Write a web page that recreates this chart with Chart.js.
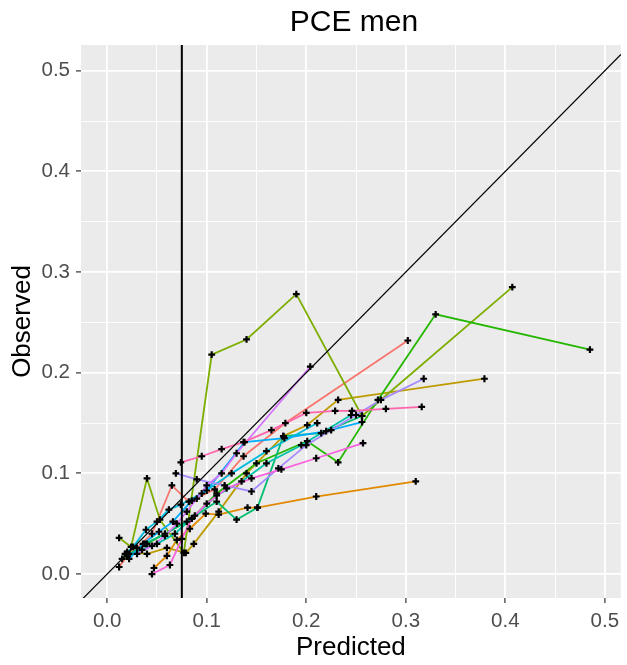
<!DOCTYPE html>
<html>
<head>
<meta charset="utf-8">
<script src="https://cdn.jsdelivr.net/npm/chart.js@4.4.1/dist/chart.umd.min.js"></script>
<style>
  html, body { margin: 0; padding: 0; background: #ffffff; overflow: hidden; }
  #marco { width: 627px; height: 665px; }
</style>
</head>
<body>
<div id="marco"><canvas id="grafico" width="627" height="665"></canvas></div>
<script>
// --- DATOS: [predicho, observado] por cohorte, ordenados por predicho ---
const rojo = [[0.012,0.007],[0.020,0.018],[0.030,0.026],[0.045,0.040],[0.065,0.088],[0.082,0.072],[0.108,0.084],[0.137,0.117],[0.179,0.150],[0.302,0.232]];
const naranja = [[0.047,0.006],[0.060,0.018],[0.070,0.034],[0.083,0.045],[0.099,0.060],[0.112,0.059],[0.141,0.066],[0.151,0.066],[0.210,0.077],[0.310,0.092]];
const oliva = [[0.020,0.022],[0.040,0.020],[0.060,0.026],[0.079,0.021],[0.087,0.030],[0.112,0.062],[0.140,0.100],[0.177,0.137],[0.201,0.148],[0.232,0.173],[0.379,0.194]];
const lima = [[0.012,0.036],[0.024,0.027],[0.040,0.095],[0.053,0.054],[0.077,0.021],[0.105,0.218],[0.140,0.233],[0.190,0.278],[0.256,0.157],[0.407,0.285]];
const verde = [[0.015,0.015],[0.040,0.030],[0.085,0.055],[0.110,0.080],[0.150,0.110],[0.201,0.132],[0.232,0.111],[0.272,0.173],[0.330,0.258],[0.485,0.223]];
const esmeralda = [[0.020,0.018],[0.038,0.030],[0.058,0.040],[0.080,0.052],[0.110,0.072],[0.130,0.054],[0.151,0.066],[0.177,0.137],[0.215,0.140],[0.256,0.157]];
const turquesa = [[0.022,0.020],[0.035,0.024],[0.050,0.030],[0.068,0.040],[0.088,0.058],[0.110,0.078],[0.135,0.092],[0.160,0.110],[0.195,0.128],[0.245,0.158]];
const cian = [[0.018,0.020],[0.026,0.027],[0.039,0.044],[0.050,0.052],[0.062,0.064],[0.074,0.069],[0.095,0.080],[0.125,0.100],[0.160,0.122],[0.211,0.150]];
const celeste = [[0.022,0.015],[0.036,0.030],[0.052,0.042],[0.066,0.052],[0.085,0.073],[0.100,0.083],[0.138,0.131],[0.178,0.135],[0.220,0.142],[0.256,0.151]];
const lavanda = [[0.069,0.100],[0.090,0.094],[0.118,0.088],[0.145,0.082],[0.172,0.105],[0.200,0.128],[0.225,0.143],[0.250,0.158],[0.275,0.173],[0.318,0.194]];
const violeta = [[0.030,0.020],[0.045,0.028],[0.058,0.038],[0.070,0.050],[0.080,0.062],[0.090,0.075],[0.100,0.088],[0.115,0.100],[0.130,0.120],[0.204,0.206]];
const magenta = [[0.045,0.000],[0.063,0.009],[0.075,0.035],[0.085,0.055],[0.100,0.070],[0.120,0.085],[0.145,0.095],[0.175,0.104],[0.210,0.115],[0.257,0.130]];
const rosa = [[0.074,0.111],[0.095,0.117],[0.115,0.124],[0.137,0.131],[0.165,0.143],[0.200,0.160],[0.229,0.162],[0.246,0.162],[0.280,0.164],[0.316,0.166]];

const cohortes = [rojo, naranja, oliva, lima, verde, esmeralda, turquesa, cian, celeste, lavanda, violeta, magenta, rosa];
// paleta hue de ggplot para 13 grupos
const colores = ['#F8766D', '#E18A00', '#BE9C00', '#7CAE00', '#24B700', '#00BE70', '#00C1AB', '#00BBDA', '#00ACFC', '#A58AFF', '#D575FE', '#F962DD', '#FF65AC'];

const corte = 0.075;           // umbral vertical
const marcasEje = [0, 0.05, 0.1, 0.15, 0.2, 0.25, 0.3, 0.35, 0.4, 0.45, 0.5];
const rangoX = [-0.0263, 0.516];
const rangoY = [-0.0238, 0.5255];

const FUENTE = '"Liberation Sans", Arial, sans-serif';
const esMayor = v => Math.abs(v * 10 - Math.round(v * 10)) < 1e-6;
const aPuntos = serie => serie.map(([x, y]) => ({ x, y }));

// --- DATASETS ---
// referencias arriba, luego los puntos, y las líneas debajo (índice menor = se dibuja encima)
const datasets = [
    {
        data: [{ x: -0.1, y: -0.1 }, { x: 0.6, y: 0.6 }],
        borderColor: '#000000', borderWidth: 1.2, pointRadius: 0
    },
    {
        data: [{ x: corte, y: -0.1 }, { x: corte, y: 0.6 }],
        borderColor: '#000000', borderWidth: 2, pointRadius: 0
    }
];

cohortes.forEach(serie => {
    datasets.push({
        data: aPuntos(serie),
        showLine: false,
        pointStyle: 'cross',
        pointRadius: 3.4,
        pointBorderWidth: 2.2,
        pointBorderColor: '#000000',
        pointBackgroundColor: '#000000'
    });
});

cohortes.slice().reverse().forEach((serie, i) => {
    datasets.push({
        data: aPuntos(serie),
        borderColor: colores[cohortes.length - 1 - i],
        borderWidth: 1.8,
        pointRadius: 0,
        tension: 0
    });
});

// --- PLUGINS ---
const fondoPanel = {
    id: 'fondoPanel',
    beforeDraw(chart) {
        const { ctx, chartArea: a } = chart;
        ctx.save();
        ctx.fillStyle = '#ffffff';
        ctx.fillRect(0, 0, chart.width, chart.height);
        ctx.fillStyle = '#EBEBEB';
        ctx.fillRect(a.left, a.top, a.right - a.left, a.bottom - a.top);
        ctx.restore();
    }
};

const tituloPanel = {
    id: 'tituloPanel',
    afterDraw(chart) {
        const { ctx, chartArea: a } = chart;
        ctx.save();
        ctx.font = '30px ' + FUENTE;
        ctx.fillStyle = '#000000';
        ctx.textAlign = 'center';
        ctx.textBaseline = 'middle';
        ctx.fillText('PCE men', (a.left + a.right) / 2 + 3, 23);
        ctx.restore();
    }
};

function ejeLineal(min, max, titulo, vertical) {
    return {
        type: 'linear',
        min: min,
        max: max,
        afterBuildTicks: eje => { eje.ticks = marcasEje.map(v => ({ value: v })); },
        afterFit: eje => {
            if (vertical) eje.width = 81;
            else eje.height = 67;
        },
        border: { display: false },
        grid: {
            color: '#FFFFFF',
            lineWidth: c => (c.tick && esMayor(c.tick.value)) ? 1.8 : 0.9,
            drawTicks: true,
            tickLength: 5,
            tickWidth: 1.2,
            tickColor: c => (c.tick && esMayor(c.tick.value)) ? '#333333' : 'rgba(0,0,0,0)'
        },
        ticks: {
            autoSkip: false,
            maxRotation: 0,
            padding: 6,
            color: '#4D4D4D',
            font: { family: FUENTE, size: 20.5 },
            callback: v => esMayor(v) ? v.toFixed(1) : ''
        },
        title: {
            display: true,
            text: titulo,
            color: '#000000',
            font: { family: FUENTE, size: 26 },
            padding: vertical ? { top: 7, bottom: 0 } : { top: 0, bottom: 1.5 }
        }
    };
}

new Chart(document.getElementById('grafico').getContext('2d'), {
    type: 'line',
    data: { datasets: datasets },
    options: {
        responsive: false,
        animation: false,
        events: [],
        // margen derecho negativo: el panel gris llega hasta el borde
        layout: { padding: { top: 45, right: -6, left: 0, bottom: 0 } },
        plugins: { legend: { display: false }, tooltip: { enabled: false }, title: { display: false } },
        scales: {
            x: ejeLineal(rangoX[0], rangoX[1], 'Predicted', false),
            y: ejeLineal(rangoY[0], rangoY[1], 'Observed', true)
        }
    },
    plugins: [fondoPanel, tituloPanel]
});
</script>
</body>
</html>
